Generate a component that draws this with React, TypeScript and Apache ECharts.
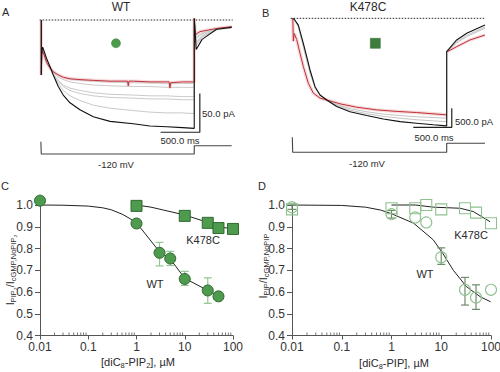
import React, { useEffect, useRef } from 'react';
import * as echarts from 'echarts';

const FONT = '"Liberation Sans", Arial, Helvetica, sans-serif';

// ---------- Panel A (WT) current traces: time (ms), current (pA) ----------
const aTimes = [0, 0, 6, 18, 69, 111, 153, 217, 280, 366, 493, 663, 876, 1173, 1385, 1598, 1800, 1950, 1950, 1975, 2050, 2235, 2427];
const aBlack = [0, -71, -42, -35, -50, -60, -71, -86, -97, -107, -116, -125, -131, -134, -137, -138, -139, -140, 2, -38, -25, -12, -9.5];
const aGray1 = [0, -71, -45, -39, -54, -61, -66, -71, -74, -76, -78, -79, -80, -81, -81, -82, -82, -82, 2, -22, -17, -11, -9];
const aGray2 = [0, -71, -45, -38, -54, -62, -68, -74, -77, -80, -82, -84, -85, -86, -86, -87, -87, -87, 2, -24, -18, -11, -9];
const aGray3 = [0, -71, -44, -37, -53, -62, -70, -78, -84, -88, -91, -94, -96, -97, -98, -98, -99, -99, 2, -28, -20, -12, -9];
const aGray4 = [0, -71, -44, -37, -53, -62, -70, -79, -86, -91, -95, -98, -100, -101, -102, -102, -103, -103, 2, -30, -21, -12, -9];
const aGray5 = [0, -71, -43, -36, -52, -61, -71, -82, -91, -98, -104, -110, -114, -117, -119, -120, -120, -121, 2, -33, -22, -12, -9.5];
const aRedTimes = [0, 0, 6, 18, 69, 111, 153, 217, 280, 366, 493, 663, 876, 1100, 1109, 1118, 1173, 1385, 1598, 1630, 1640, 1650, 1800, 1950, 1950, 1963, 2023, 2235, 2427];
const aRed = [0, -71, -45, -40, -55, -62, -67, -71, -74, -76, -77, -78, -79, -79, -85, -79, -79, -80, -80, -80, -88, -81, -80, -80, 2, -19, -15, -11, -8.6];
const aProtocolTimes = [-5, 0, 0, 1950, 1950, 2427];
const aProtocolMv = [0, 0, -120, -120, -40, -40];

// ---------- Panel B (K478C) current traces ----------
const bTimes = [0, 30, 73, 138, 182, 225, 290, 355, 442, 571, 744, 961, 1177, 1394, 1610, 1826, 2000, 2000, 2008, 2130, 2260, 2497];
const bBlack = [0, -50, -180, -660, -1010, -1360, -1800, -2020, -2150, -2320, -2460, -2560, -2650, -2720, -2760, -2800, -2830, -878, -878, -570, -395, -176];
const bGray1 = [0, -60, -200, -700, -1060, -1400, -1820, -2020, -2140, -2290, -2420, -2510, -2580, -2630, -2670, -2700, -2720, -878, -878, -620, -450, -230];
const bGray2 = [0, -70, -230, -760, -1120, -1450, -1840, -2030, -2140, -2270, -2380, -2460, -2520, -2560, -2590, -2610, -2630, -878, -878, -650, -480, -263];
const bRedTimes = [0, 3, 8, 20, 52, 95, 138, 203, 268, 355, 442, 614, 831, 1091, 1351, 1610, 1991, 2000];
const bRed = [0, -100, -600, -400, -560, -920, -1270, -1710, -1970, -2100, -2150, -2250, -2340, -2410, -2450, -2480, -2540, -2540];
const bRedTailTimes = [2008, 2130, 2303, 2497];
const bRedTail = [-878, -746, -570, -440];
const bProtocolTimes = [-5, 0, 0, 2000, 2000, 2497];
const bProtocolMv = [0, 0, -120, -120, -48, -48];

// ---------- Panel C (diC8-PIP2) ----------
const cWtX = [0.01, 1, 3, 5, 10, 30, 50];
const cWtY = [1.02, 0.915, 0.78, 0.754, 0.66, 0.607, 0.58];
const cWtErrX = [3, 5, 10, 30];
const cWtErrLo = [0.72, 0.722, 0.63, 0.548];
const cWtErrHi = [0.828, 0.787, 0.695, 0.665];
const cKX = [1, 10, 30, 50, 100];
const cKY = [0.996, 0.95, 0.918, 0.894, 0.89];
const cWtFitX = [0.01, 0.03, 0.1, 0.2, 0.3, 0.5, 0.7, 1, 3, 5, 10, 30, 50];
const cWtFitY = [1.0, 0.999, 0.995, 0.987, 0.978, 0.958, 0.94, 0.918, 0.785, 0.752, 0.663, 0.607, 0.582];
const cKFitX = [1, 2, 3.6, 10, 30, 50, 100];
const cKFitY = [1.0, 0.99, 0.977, 0.954, 0.92, 0.898, 0.892];

// ---------- Panel D (diC8-PIP) ----------
const dWtX = [0.01, 1, 3, 5, 10, 30, 50, 100];
const dWtY = [0.99, 0.958, 0.943, 0.92, 0.76, 0.61, 0.575, 0.61];
const dWtErrX = [0.01, 1, 10, 30, 50];
const dWtErrLo = [0.98, 0.94, 0.727, 0.54, 0.52];
const dWtErrHi = [1.005, 0.975, 0.803, 0.667, 0.633];
const dKX = [0.01, 1, 3, 5, 10, 30, 50, 100];
const dKY = [0.98, 0.985, 0.985, 1.0, 0.98, 0.985, 0.965, 0.916];
const dWtFitX = [0.01, 0.1, 0.3, 0.6, 1, 2.8, 6.9, 10.7, 17.5, 32, 61, 98];
const dWtFitY = [1.0, 0.998, 0.99, 0.977, 0.96, 0.916, 0.84, 0.778, 0.7, 0.625, 0.578, 0.555];
const dKFitX = [1, 3, 7, 24, 44, 96];
const dKFitY = [1.0, 1.0, 0.99, 0.985, 0.97, 0.923];

// axis tick labels
const xTickLabels = ['0.01', '0.1', '1', '10', '100'];
const minorDecades = [0.01, 0.1, 1, 10];
const minorMultipliers = [2, 3, 4, 5, 6, 7, 8, 9];

const zip = (xs: number[], ys: number[]) => xs.map((x, i) => [x, ys[i]]);
const zip3 = (xs: number[], a: number[], b: number[]) => xs.map((x, i) => [x, a[i], b[i]]);

const GREEN_FILL = '#4e9a4e';
const GREEN_EDGE = '#2f6a2f';
const OPEN_EDGE = '#8fc18f';

export default function App() {
  const ref = useRef<HTMLDivElement>(null);
  useEffect(() => {
    if (!ref.current) return;
    const chart = echarts.init(ref.current, undefined, { renderer: 'svg' });

    const grids = [
      { left: 39.7, top: 12.26, width: 193.0, height: 123.84 }, // A traces
      { left: 39.7, top: 140.675, width: 193.0, height: 14.35 }, // A protocol
      { left: 290.7, top: 10.7, width: 194.5, height: 121.6 }, // B traces
      { left: 290.7, top: 136.05, width: 194.5, height: 17.5 }, // B protocol
      { left: 40, top: 205, width: 193, height: 130.5 }, // C
      { left: 292, top: 205, width: 199, height: 130.5 }, // D
    ].map((g) => ({ ...g, containLabel: false, outerBoundsMode: 'none' }));

    const hiddenX = (min: number, max: number, gi: number) => ({
      type: 'value', gridIndex: gi, min, max, show: false,
    });
    const hiddenY = (min: number, max: number, gi: number) => ({
      type: 'value', gridIndex: gi, min, max, show: false,
    });

    const logX = (gi: number) => ({
      type: 'log', logBase: 10, gridIndex: gi, min: 0.01, max: 100,
      axisLine: { show: true, onZero: false, lineStyle: { color: '#555', width: 1 } },
      axisTick: { show: true, length: 4, lineStyle: { color: '#555' } },
      minorTick: { show: false },
      splitLine: { show: false },
      axisLabel: {
        fontSize: 12, color: '#333', margin: 5, fontFamily: FONT,
        formatter: (v: number) => xTickLabels[Math.round(Math.log10(v)) + 2] ?? '',
      },
    });
    const valY = (gi: number) => ({
      type: 'value', gridIndex: gi, min: 0.4, max: 1.0, interval: 0.1,
      axisLine: { show: true, onZero: false, lineStyle: { color: '#555', width: 1 } },
      axisTick: { show: true, length: 5, lineStyle: { color: '#555' } },
      splitLine: { show: false },
      axisLabel: { fontSize: 12, color: '#333', margin: 7, fontFamily: FONT, formatter: (v: number) => v.toFixed(1) },
    });

    const line = (gi: number, data: number[][], color: string, width = 1, extra: any = {}) => ({
      type: 'line', xAxisIndex: gi, yAxisIndex: gi, data, showSymbol: false, symbol: 'none',
      smooth: false, silent: true, clip: false,
      lineStyle: { color, width, ...(extra.lineStyle || {}) }, z: extra.z ?? 2,
    });

    const errBars = (gi: number, data: number[][], color: string) => ({
      type: 'custom', xAxisIndex: gi, yAxisIndex: gi, data, silent: true, clip: false, z: 3,
      encode: { x: 0, y: [1, 2] },
      renderItem: (_p: any, api: any) => {
        const x = api.value(0);
        const p1 = api.coord([x, api.value(2)]);
        const p2 = api.coord([x, api.value(1)]);
        const w = 4;
        const st = { stroke: color, lineWidth: 1.2 };
        return {
          type: 'group',
          children: [
            { type: 'line', shape: { x1: p1[0], y1: p1[1], x2: p2[0], y2: p2[1] }, style: st },
            { type: 'line', shape: { x1: p1[0] - w, y1: p1[1], x2: p1[0] + w, y2: p1[1] }, style: st },
            { type: 'line', shape: { x1: p2[0] - w, y1: p2[1], x2: p2[0] + w, y2: p2[1] }, style: st },
          ],
        };
      },
    });

    const scatter = (gi: number, data: number[][], symbol: string, size: any, fill: string, edge: string, bw = 1, z = 5) => ({
      type: 'scatter', xAxisIndex: gi, yAxisIndex: gi, data, symbol, symbolSize: size, silent: true, clip: false, z,
      itemStyle: { color: fill, borderColor: edge, borderWidth: bw, opacity: 1 },
    });

    const minorData = (): number[][] => {
      const out: number[][] = [];
      minorDecades.forEach((d) => minorMultipliers.forEach((m) => out.push([d * m, 0.4])));
      return out;
    };
    const minorTicks = (gi: number) => ({
      type: 'scatter', xAxisIndex: gi, yAxisIndex: gi, data: minorData(), symbol: 'rect',
      symbolSize: [1, 3], symbolOffset: [0, -1.5], silent: true, clip: false, z: 1,
      itemStyle: { color: '#555' },
    });

    const txt = (text: string, x: number, y: number, size: number, align = 'center', vAlign = 'middle', extra: any = {}) => ({
      type: 'text', x, y, silent: true, ...extra,
      style: {
        text, fontSize: size, fontFamily: FONT, fill: '#2a2a2a',
        align, verticalAlign: vAlign, textAlign: align, textVerticalAlign: vAlign, ...(extra.style || {}),
      },
    });

    const richSub = {
      n: { fontSize: 11, fontFamily: FONT, color: '#2a2a2a', lineHeight: 14 },
      s: { fontSize: 7.5, fontFamily: FONT, color: '#2a2a2a', lineHeight: 8, verticalAlign: 'bottom', padding: [6, 0, 0, 0] },
    };
    const richText = (text: string, x: number, y: number, rotation = 0) => ({
      type: 'text', x, y, rotation, silent: true,
      style: {
        text, rich: richSub, fontSize: 11, fontFamily: FONT, fill: '#2a2a2a',
        align: 'center', verticalAlign: 'middle', textAlign: 'center', textVerticalAlign: 'middle',
      },
    });

    const series: any[] = [
      // A traces
      line(0, [[-20, 0], [2440, 0]], '#222', 1, { lineStyle: { type: [1.5, 1.5] } }),
      line(0, zip(aRedTimes, aRed), 'rgba(238,180,180,0.5)', 3.5, { z: 1 }),
      line(0, zip(aTimes, aGray1), '#cacaca', 1),
      line(0, zip(aTimes, aGray2), '#cacaca', 1),
      line(0, zip(aTimes, aGray3), '#cacaca', 1),
      line(0, zip(aTimes, aGray4), '#cacaca', 1),
      line(0, zip(aTimes, aGray5), '#cacaca', 1),
      line(0, zip(aRedTimes, aRed), '#c0303a', 1, { z: 3 }),
      line(0, zip(aTimes, aBlack), '#111', 1.1, { z: 4 }),
      line(0, [[1521, -145], [2021, -145], [2021, -95]], '#222', 1.2),
      scatter(0, [[952, -30]], 'circle', 9, '#4a9a4a', '#3c803c', 0.5),
      line(1, zip(aProtocolTimes, aProtocolMv), '#444', 1.1),
      // B traces
      line(2, [[-26, 0], [2500, 0]], '#222', 1, { lineStyle: { type: [1.5, 1.5] } }),
      line(2, zip(bRedTimes, bRed), 'rgba(238,180,180,0.5)', 3.5, { z: 1 }),
      line(2, zip(bRedTailTimes, bRedTail), 'rgba(238,180,180,0.5)', 3, { z: 1 }),
      line(2, zip(bTimes, bGray2), '#c4c4c4', 1),
      line(2, zip(bTimes, bGray1), '#c4c4c4', 1),
      line(2, zip(bRedTimes, bRed), '#c0303a', 1, { z: 3 }),
      line(2, zip(bRedTailTimes, bRedTail), '#c0303a', 1, { z: 3 }),
      line(2, zip(bTimes, bBlack), '#111', 1.1, { z: 4 }),
      line(2, [[1566, -2870], [2066, -2870], [2066, -2370]], '#222', 1.2),
      scatter(2, [[1073, -658]], 'rect', 10, '#3f7d3f', '#2f6a2f', 0.5),
      line(3, zip(bProtocolTimes, bProtocolMv), '#444', 1.1),
      // C
      minorTicks(4),
      line(4, zip(cWtFitX, cWtFitY), '#222', 1),
      line(4, zip(cKFitX, cKFitY), '#222', 1),
      errBars(4, zip3(cWtErrX, cWtErrLo, cWtErrHi), '#93c493'),
      scatter(4, zip(cWtX, cWtY), 'circle', 11, GREEN_FILL, GREEN_EDGE, 1),
      scatter(4, zip(cKX, cKY), 'rect', 11, GREEN_FILL, GREEN_EDGE, 1),
      // D
      minorTicks(5),
      line(5, zip(dWtFitX, dWtFitY), '#222', 1),
      line(5, zip(dKFitX, dKFitY), '#222', 1),
      scatter(5, zip(dWtX, dWtY), 'circle', 11, 'rgba(255,255,255,0)', OPEN_EDGE, 1.1),
      scatter(5, zip(dKX, dKY), 'rect', 11, 'rgba(255,255,255,0)', OPEN_EDGE, 1.1),
      errBars(5, zip3(dWtErrX, dWtErrLo, dWtErrHi), '#6f8c6a'),
    ];

    const option: any = {
      animation: false,
      textStyle: { fontFamily: FONT },
      grid: grids,
      xAxis: [
        hiddenX(-20, 2440, 0),
        hiddenX(-20, 2440, 1),
        hiddenX(-26, 2500, 2),
        hiddenX(-26, 2500, 3),
        logX(4),
        logX(5),
      ],
      yAxis: [
        hiddenY(-150, 10, 0),
        hiddenY(-130, 10, 1),
        hiddenY(-3000, 200, 2),
        hiddenY(-130, 10, 3),
        valY(4),
        valY(5),
      ],
      series,
      graphic: [
        txt('A', 2, 12, 11, 'left'),
        txt('WT', 121, 7, 12),
        txt('B', 262, 13, 11, 'left'),
        txt('K478C', 368, 7, 12),
        txt('50.0 pA', 202, 113, 9.5, 'left'),
        txt('500.0 ms', 180, 140, 9.5),
        txt('-120 mV', 116, 164.5, 9.5),
        txt('500.0 pA', 455, 121.5, 9.5, 'left'),
        txt('500.0 ms', 434, 137.5, 9.5),
        txt('-120 mV', 367, 163, 9.5),
        txt('C', 1, 186, 11, 'left'),
        txt('D', 258, 186, 11, 'left'),
        txt('K478C', 203, 240, 11),
        txt('WT', 155, 284, 11),
        txt('K478C', 471, 235, 11),
        txt('WT', 425, 274, 11),
        richText('{n|I}{s|PIP₂}{n|/I}{s|cGMP,NoPIP₂}', 10, 270, Math.PI / 2),
        richText('{n|I}{s|PIP}{n|/I}{s|cGMP,NoPIP}', 263, 266, Math.PI / 2),
        richText('{n|[diC}{s|8}{n|-PIP}{s|2}{n|], µM}', 138, 362),
        richText('{n|[diC}{s|8}{n|-PIP], µM}', 394, 363),
      ],
    };
    chart.setOption(option);
    return () => chart.dispose();
  }, []);

  return <div ref={ref} style={{ position: 'fixed', left: 0, top: 0, width: 500, height: 372, background: '#fff' }} />;
}
